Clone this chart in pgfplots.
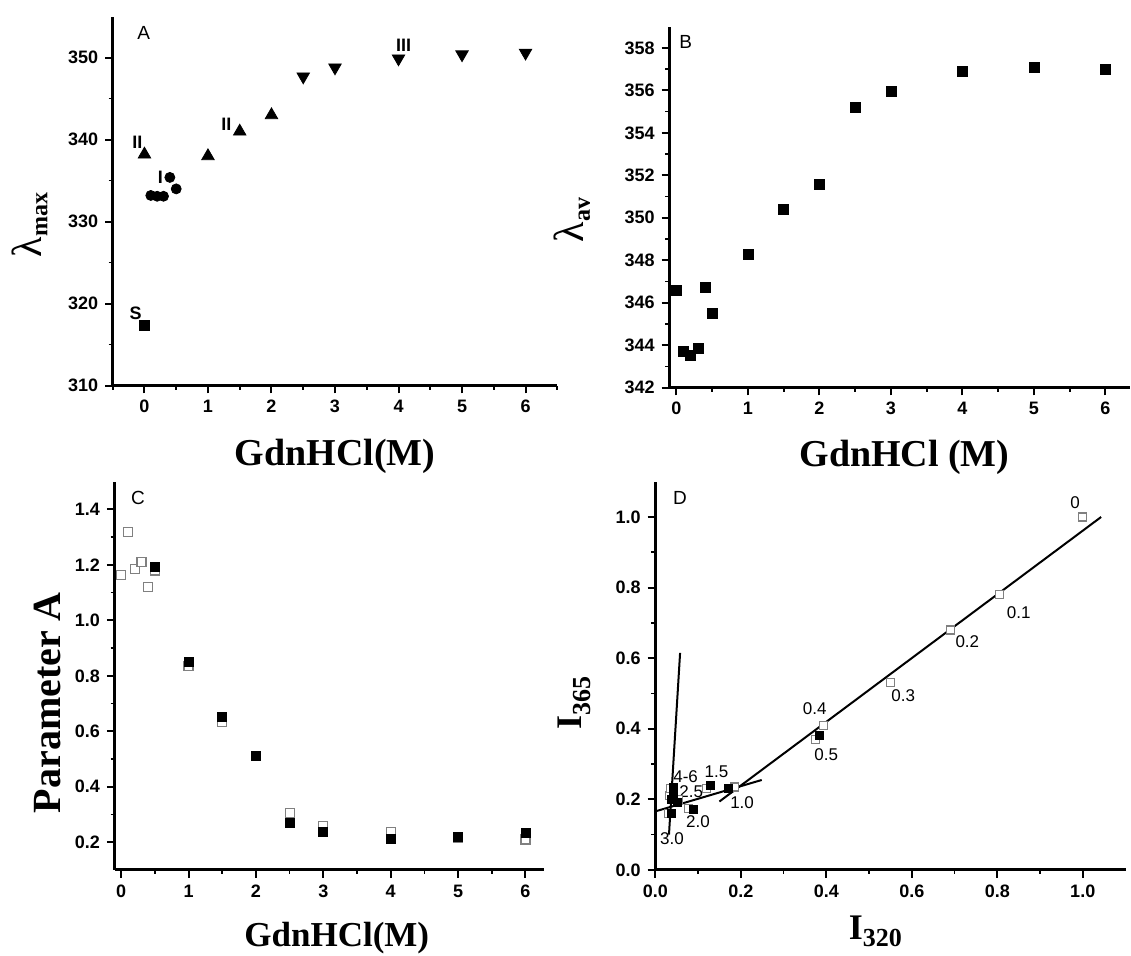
\documentclass[border=0pt]{standalone}
\usepackage{pgfplots}
\pgfplotsset{compat=1.18}
\usepackage{fontspec}
\setmainfont{Liberation Sans}
\newfontfamily\tnr{Liberation Serif}

\pgfplotsset{
  panel/.style={
    scale only axis, anchor=south west, clip=false,
    axis x line*=bottom, axis y line*=left,
    tick align=outside,
    axis line style={line width=1.5pt},
    major tick length=3.8pt, minor tick length=2pt,
    every tick/.style={black, line width=1pt},
    minor tick style={line width=0.8pt},
    tick label style={font=\fontsize{9}{10}\selectfont\bfseries},
    /pgf/number format/assume math mode=true,
  },
  opensq/.style={only marks, mark=square*, mark options={draw=gray, fill=white, line width=0.6pt}},
}
\tikzset{
  lab/.style={font=\fontsize{9}{10}\selectfont\bfseries},
  num/.style={font=\fontsize{8.5}{10}\selectfont},
  letter/.style={font=\fontsize{9.5}{11}\selectfont},
}

\begin{document}
\begin{tikzpicture}
\useasboundingbox (0,0) rectangle (565.5pt,478pt);

% A
\begin{axis}[panel,
  at={(56.35pt,285.15pt)}, width=222.3pt, height=184.5pt,
  xmin=-0.5, xmax=6.5, ymin=310, ymax=355,
  xtick={0,...,6}, minor xtick={-0.5,0.5,...,6.5},
  ytick={310,320,...,350}, minor y tick num=1,
  xlabel={\tnr\bfseries\fontsize{19}{22}\selectfont GdnHCl(M)},
  xlabel style={at={(axis description cs:0.5,-0.217)}, anchor=base},
  ylabel={\tnr\fontsize{21}{22}\selectfont λ\raisebox{-0.3ex}{\fontsize{12}{14}\selectfont\bfseries max}},
  ylabel style={at={(axis description cs:-0.16,0.435)}, anchor=base},
]
\addplot[only marks, mark=square*, mark size=2.5pt] coordinates {(0,317.3)};
\addplot[only marks, mark=*, mark size=2.5pt] coordinates {
(0.1,333.2)(0.2,333.1)(0.3,333.1)(0.4,335.4)(0.5,334.0)};
\addplot[only marks, mark=triangle*, mark size=3.6pt] coordinates {
(0,338.2)(1,338.0)(1.5,341.0)(2,343.0)};
\addplot[only marks, mark=triangle*, mark size=3.6pt, mark options={rotate=180}] coordinates {
(2.5,347.7)(3,348.8)(4,349.9)(5,350.4)(6,350.6)};
\node[letter] at (axis cs:-0.01,353.0) {A};
\node[lab] at (axis cs:4.08,351.5) {III};
\node[lab] at (axis cs:-0.11,339.7) {II};
\node[lab] at (axis cs:1.29,341.9) {II};
\node[lab] at (axis cs:0.25,335.4) {I};
\node[lab] at (axis cs:-0.14,318.8) {S};
\end{axis}

% B
\begin{axis}[panel,
  at={(334.65pt,284.15pt)}, width=230.6pt, height=180.5pt,
  xmin=-0.1, xmax=6.35, ymin=342, ymax=359,
  xtick={0,...,6}, minor xtick={0.5,1.5,...,5.5},
  ytick={342,344,...,358}, minor y tick num=1,
  xlabel={\tnr\bfseries\fontsize{19}{22}\selectfont GdnHCl (M)},
  xlabel style={at={(axis description cs:0.51,-0.219)}, anchor=base},
  ylabel={\tnr\fontsize{21}{22}\selectfont λ\raisebox{-0.3ex}{\fontsize{12}{14}\selectfont\bfseries av}},
  ylabel style={at={(axis description cs:-0.185,0.465)}, anchor=base},
]
\addplot[only marks, mark=square*, mark size=2.5pt] coordinates {
(0,346.6)(0.1,343.7)(0.2,343.5)(0.3,343.85)(0.4,346.7)(0.5,345.5)
(1,348.3)(1.5,350.4)(2,351.55)(2.5,355.2)(3,355.95)(4,356.9)(5,357.1)(6,357.0)};
\node[letter] at (axis cs:0.13,358.3) {B};
\end{axis}

% C
\begin{axis}[panel,
  at={(57.25pt,43pt)}, width=214.55pt, height=194.15pt,
  xmin=-0.1, xmax=6.27, ymin=0.1, ymax=1.5,
  xtick={0,...,6}, minor xtick={0.5,1.5,...,5.5},
  ytick={0.2,0.4,...,1.41}, minor y tick num=1,
  yticklabel style={/pgf/number format/.cd, fixed, fixed zerofill, precision=1},
  xlabel={\tnr\bfseries\fontsize{17.5}{20}\selectfont GdnHCl(M)},
  xlabel style={at={(axis description cs:0.518,-0.197)}, anchor=base},
  ylabel={\tnr\bfseries\fontsize{20}{22}\selectfont Parameter A},
  ylabel style={at={(axis description cs:-0.127,0.431)}, anchor=base},
]
\addplot[opensq, mark size=2.25pt] coordinates {
(0,1.165)(0.1,1.32)(0.2,1.185)(0.3,1.21)(0.4,1.12)(0.5,1.18)
(1,0.835)(1.5,0.635)(2,0.51)(2.5,0.306)(3,0.26)(4,0.236)(5,0.215)(6,0.21)};
\addplot[only marks, mark=square*, mark size=2.25pt] coordinates {
(0.5,1.194)(1,0.851)(1.5,0.653)(2,0.513)(2.5,0.27)(3,0.236)(4,0.212)(5,0.218)(6,0.234)};
\node[letter] at (axis cs:0.25,1.44) {C};
\end{axis}

% D
\begin{axis}[panel,
  at={(327.65pt,43pt)}, width=235.1pt, height=194.15pt,
  xmin=0, xmax=1.1, ymin=0, ymax=1.1,
  xtick={0,0.2,...,1.01}, minor x tick num=1,
  ytick={0,0.2,...,1.01}, minor y tick num=1,
  xticklabel style={/pgf/number format/.cd, fixed, fixed zerofill, precision=1},
  yticklabel style={/pgf/number format/.cd, fixed, fixed zerofill, precision=1},
  xlabel={\tnr\bfseries\fontsize{18}{21}\selectfont I\raisebox{-0.4ex}{\fontsize{13}{15}\selectfont 320}},
  xlabel style={at={(axis description cs:0.468,-0.18)}, anchor=base},
  ylabel={\tnr\bfseries\fontsize{18}{21}\selectfont I\raisebox{-0.5ex}{\fontsize{13}{15}\selectfont 365}},
  ylabel style={at={(axis description cs:-0.156,0.43)}, anchor=base},
]
\addplot[black, line width=1pt] coordinates {(0.15,0.194)(1.043,1.0)};
\addplot[black, line width=1pt] coordinates {(0,0.166)(0.249,0.255)};
\addplot[black, line width=1pt] coordinates {(0.032,0.1)(0.058,0.615)};
\addplot[opensq, mark size=2pt] coordinates {
(1.0,1.0)(0.805,0.78)(0.69,0.68)(0.55,0.53)(0.393,0.41)(0.375,0.37)
(0.185,0.235)(0.12,0.23)(0.077,0.175)(0.055,0.2)(0.03,0.16)(0.033,0.21)(0.035,0.23)};
\addplot[only marks, mark=square*, mark size=2pt] coordinates {
(0.385,0.38)(0.17,0.23)(0.128,0.239)(0.09,0.173)(0.052,0.192)(0.038,0.161)
(0.042,0.233)(0.042,0.215)(0.038,0.20)};
\node[letter] at (axis cs:0.058,1.055) {D};
\node[num] at (axis cs:0.982,1.04) {0};
\node[num] at (axis cs:0.85,0.73) {0.1};
\node[num] at (axis cs:0.73,0.648) {0.2};
\node[num] at (axis cs:0.58,0.494) {0.3};
\node[num] at (axis cs:0.373,0.456) {0.4};
\node[num] at (axis cs:0.40,0.326) {0.5};
\node[num] at (axis cs:0.203,0.19) {1.0};
\node[num] at (axis cs:0.143,0.279) {1.5};
\node[num] at (axis cs:0.10,0.137) {2.0};
\node[num] at (axis cs:0.084,0.222) {2.5};
\node[num] at (axis cs:0.039,0.09) {3.0};
\node[num] at (axis cs:0.071,0.265) {4-6};
\end{axis}
\end{tikzpicture}
\end{document}
